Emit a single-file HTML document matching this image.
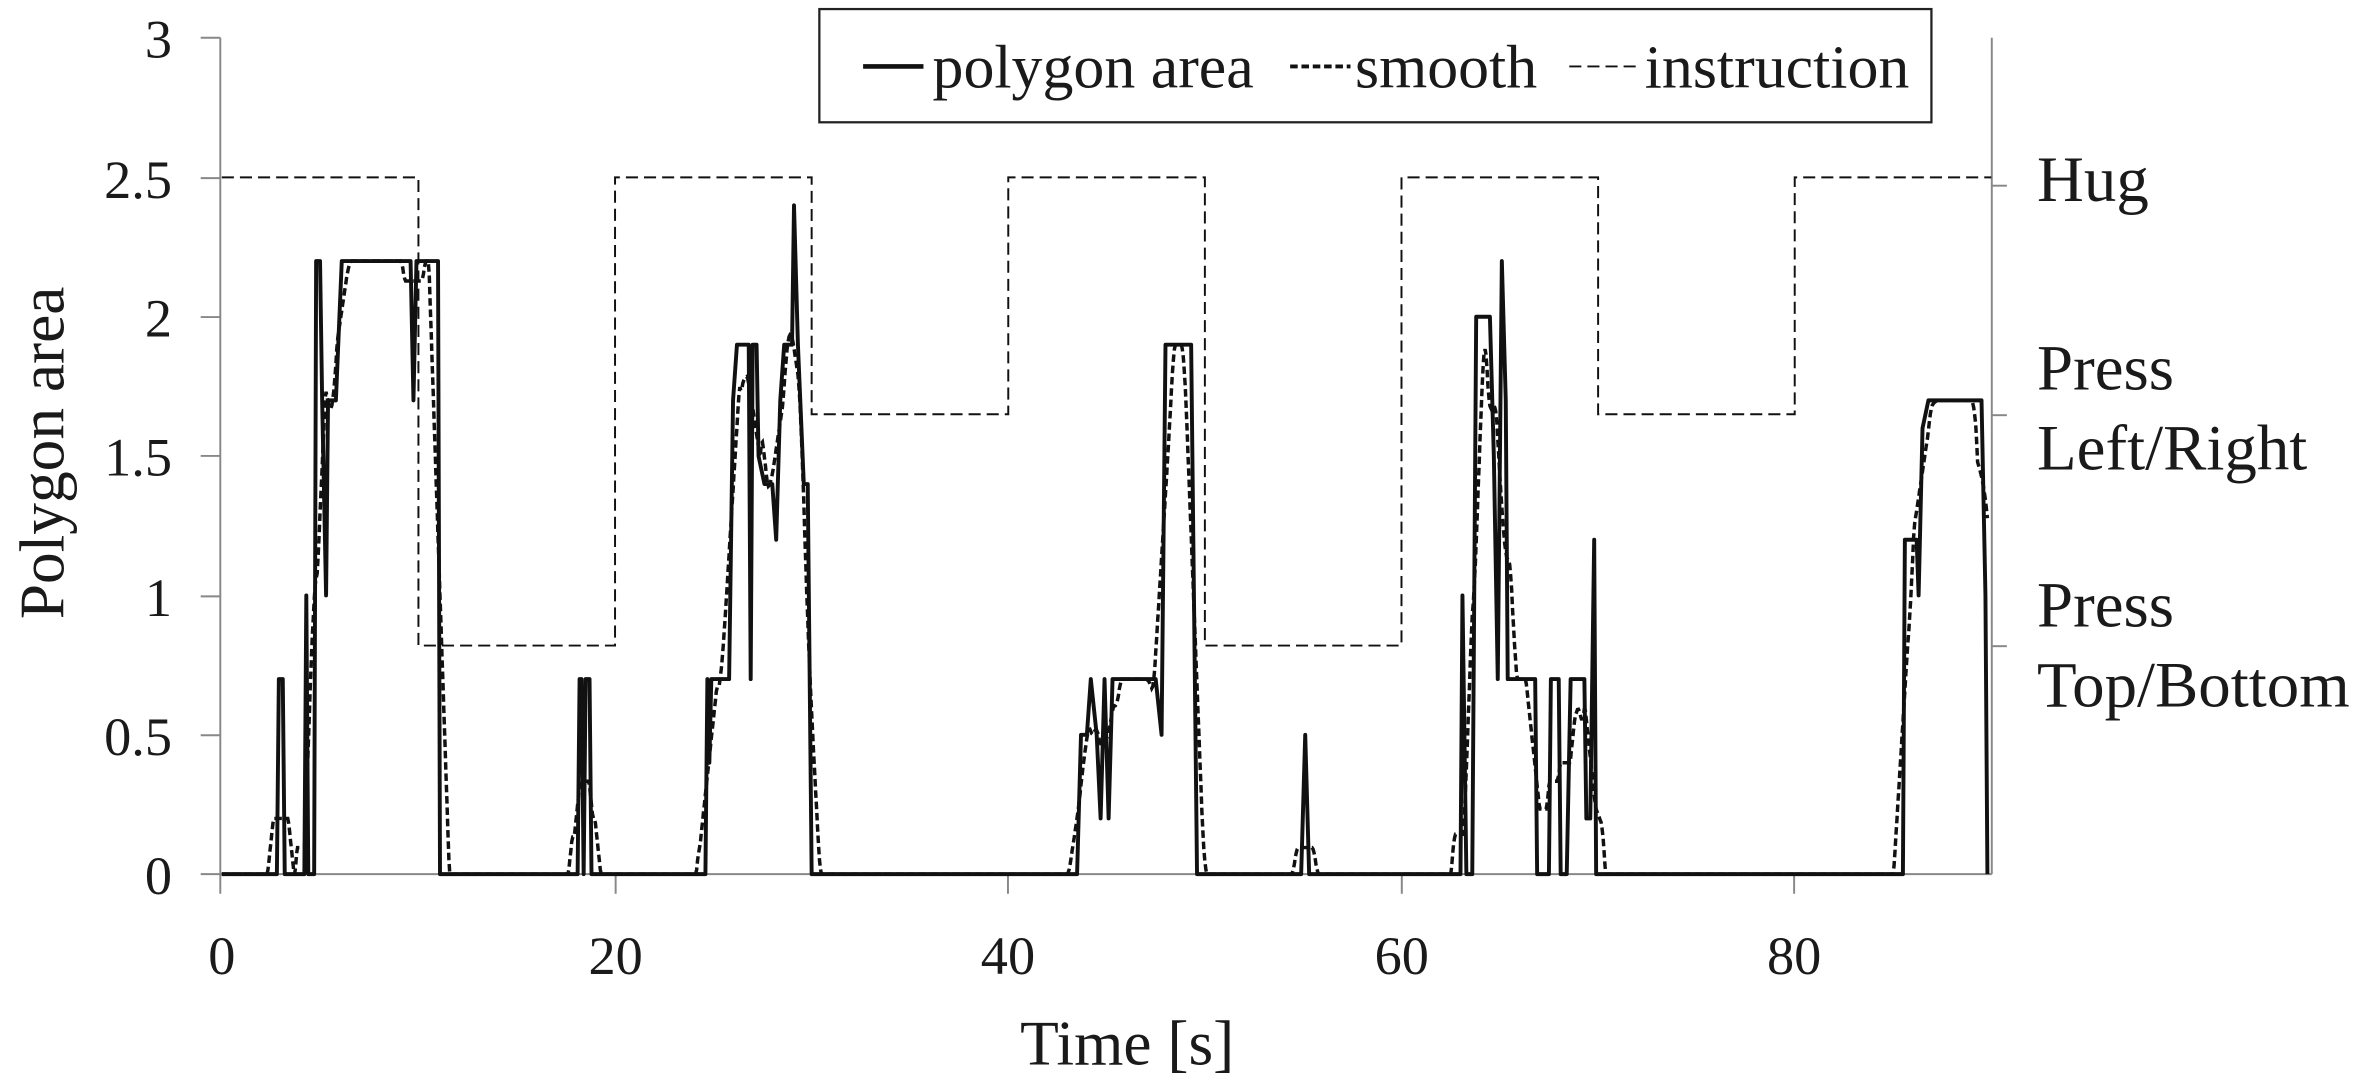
<!DOCTYPE html>
<html><head><meta charset="utf-8"><style>
html,body{margin:0;padding:0;background:#fff;}
svg{display:block;}
text{font-family:"Liberation Serif",serif;fill:#1a1a1a;}
</style></head><body>
<svg id="s" width="2366" height="1084" viewBox="0 0 1568 718" preserveAspectRatio="none" xmlns="http://www.w3.org/2000/svg">
<rect width="1568" height="718" fill="#fff"/>
<g stroke="#888" stroke-width="1.3" fill="none">
<line x1="146" y1="25" x2="146" y2="592"/>
<line x1="133" y1="579" x2="1320" y2="579"/>
<line x1="1320" y1="25" x2="1320" y2="579"/>
<line x1="133" y1="487" x2="146" y2="487"/><line x1="133" y1="395" x2="146" y2="395"/>
<line x1="133" y1="302" x2="146" y2="302"/><line x1="133" y1="210" x2="146" y2="210"/>
<line x1="133" y1="118" x2="146" y2="118"/><line x1="133" y1="25" x2="146" y2="25"/>
<line x1="408" y1="579" x2="408" y2="592"/><line x1="668" y1="579" x2="668" y2="592"/>
<line x1="929" y1="579" x2="929" y2="592"/><line x1="1189" y1="579" x2="1189" y2="592"/>
<line x1="1320" y1="123" x2="1330" y2="123"/>
<line x1="1320" y1="275" x2="1330" y2="275"/>
<line x1="1320" y1="428" x2="1330" y2="428"/>
</g>
<g font-size="36" text-anchor="end">
<text x="114" y="592">0</text><text x="114" y="500">0.5</text><text x="114" y="408">1</text>
<text x="114" y="315">1.5</text><text x="114" y="223">2</text><text x="114" y="131">2.5</text><text x="114" y="38">3</text>
</g>
<g font-size="36" text-anchor="middle">
<text x="147" y="645">0</text><text x="408" y="645">20</text><text x="668" y="645">40</text>
<text x="929" y="645">60</text><text x="1189" y="645">80</text>
</g>
<text x="747" y="705" font-size="42" text-anchor="middle">Time [s]</text>
<text transform="translate(42,300) rotate(-90)" font-size="42" text-anchor="middle">Polygon area</text>
<g font-size="43">
<text x="1350" y="133">Hug</text>
<text x="1350" y="258">Press</text><text x="1350" y="311">Left/Right</text>
<text x="1350" y="415">Press</text><text x="1350" y="468">Top/Bottom</text>
</g>
<rect x="543" y="6" width="737" height="75" fill="#fff" stroke="#222" stroke-width="1.5"/>
<g stroke="#111" fill="none">
<line x1="572" y1="44" x2="612" y2="44" stroke-width="3"/>
<line x1="855" y1="44" x2="895" y2="44" stroke-width="2.5" stroke-dasharray="5,2.5"/>
<line x1="1040" y1="44" x2="1085" y2="44" stroke-width="1.3" stroke-dasharray="8,4"/>
</g>
<g font-size="41"><text x="618" y="58">polygon area</text><text x="898" y="58">smooth</text><text x="1090" y="58">instruction</text></g>
<g id="plot"></g>
</svg>
<script>
var X=t=>147+t*13.03, Y=v=>579-v*184.6;
var poly=[[0,0],[2.8,0],[2.9,.7],[3.1,.7],[3.2,0],[4.2,0],[4.3,1],[4.4,0],[4.7,0],[4.8,2.2],[5,2.2],[5.1,1.7],[5.3,1],[5.4,1.7],[5.8,1.7],[6.1,2.2],[9.6,2.2],[9.75,1.7],[9.9,2.2],[11,2.2],[11.1,0],[18.1,0],[18.2,.7],[18.3,.7],[18.4,0],[18.5,.7],[18.7,.7],[18.8,0],[24.6,0],[24.7,.7],[24.8,.4],[24.9,.7],[25.8,.7],[26,1.7],[26.2,1.9],[26.8,1.9],[26.9,.7],[27,1.9],[27.2,1.9],[27.3,1.5],[27.6,1.4],[28,1.4],[28.2,1.2],[28.4,1.7],[28.6,1.9],[29,1.9],[29.1,2.4],[29.3,1.9],[29.6,1.4],[29.8,1.4],[30,0],[43.5,0],[43.7,.5],[44,.5],[44.2,.7],[44.5,.5],[44.7,.2],[44.9,.7],[45.1,.2],[45.3,.7],[47.5,.7],[47.8,.5],[48,1.9],[49.3,1.9],[49.6,0],[54.9,0],[55.1,.5],[55.3,0],[63,0],[63.1,1],[63.3,0],[63.6,0],[63.8,2],[64.5,2],[64.7,1.5],[64.9,.7],[65.1,2.2],[65.3,1.7],[65.4,.7],[66.8,.7],[66.9,0],[67.5,0],[67.6,.7],[68,.7],[68.1,0],[68.4,0],[68.6,.7],[69.3,.7],[69.4,.2],[69.6,.2],[69.8,1.2],[69.9,0],[85.5,0],[85.6,1.2],[86.2,1.2],[86.3,1],[86.5,1.6],[86.8,1.7],[89.5,1.7],[89.7,1],[89.8,0]];
function val(t){for(var i=1;i<poly.length;i++){if(t<=poly[i][0]){var a=poly[i-1],b=poly[i];return a[1]+(b[1]-a[1])*(t-a[0])/((b[0]-a[0])||1);}}return 0;}
var g=[];for(var t=0;t<=89.8;t+=0.05)g.push([t,val(t)]);
var sm=[],w=10;for(var i=0;i<g.length;i++){var s=0,n=0;for(var j=i-w;j<=i+w;j++){if(j>=0&&j<g.length){s+=g[j][1];n++;}}sm.push([g[i][0],s/n]);}
function d(a){return a.map((p,i)=>(i?'L':'M')+X(p[0]).toFixed(1)+' '+Y(p[1]).toFixed(1)).join('');}
var L=[2.5,.82,2.5,1.65,2.5,.82,2.5,1.65,2.5],ins=[];
L.forEach((v,k)=>{ins.push([k*10,v]);ins.push([(k+1)*10,v]);});
var P=document.getElementById('plot');
P.innerHTML='<path d="'+d(ins)+'" fill="none" stroke="#111" stroke-width="1.3" stroke-dasharray="8,4"/>'+
'<path d="'+d(poly)+'" fill="none" stroke="#111" stroke-width="2.6" stroke-linejoin="round"/>'+
'<path d="'+d(sm)+'" fill="none" stroke="#111" stroke-width="2.3" stroke-dasharray="5,2.5"/>';
</script>
</body></html>
